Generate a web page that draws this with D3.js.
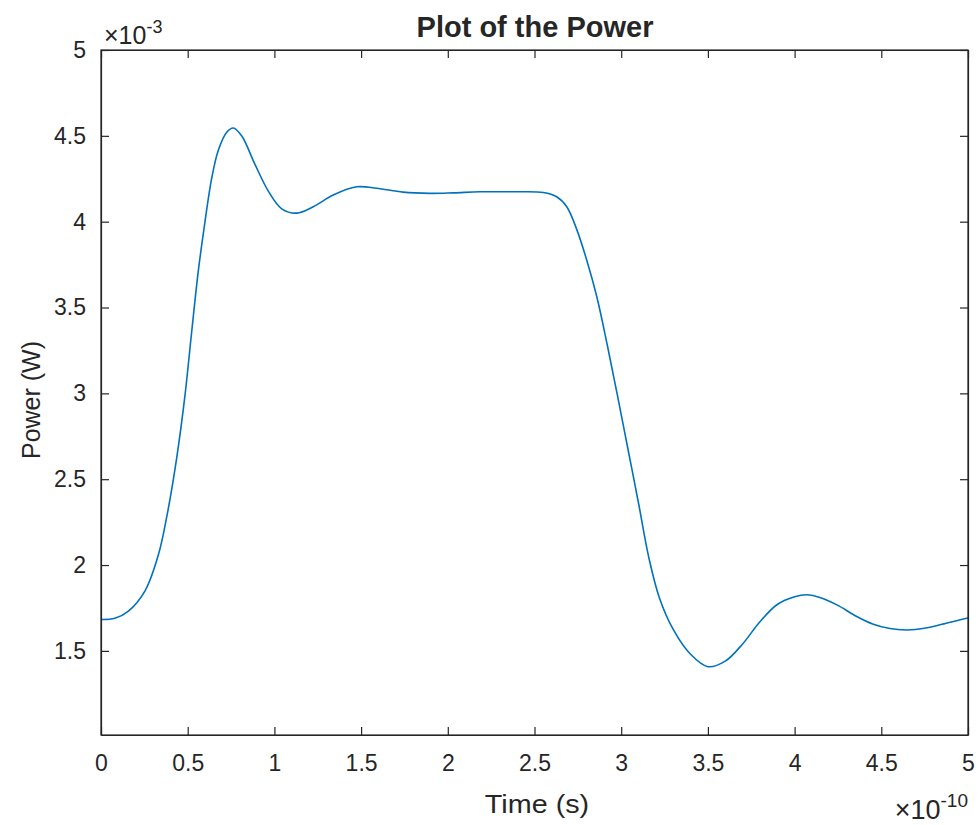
<!DOCTYPE html>
<html>
<head>
<meta charset="utf-8">
<script src="https://cdn.jsdelivr.net/npm/d3@7"></script>
<style>
  body { margin: 0; background: #fff; }
  svg { display: block; }
  text { font-family: "Liberation Sans", Arial, Helvetica, sans-serif; fill: #262626; }
</style>
</head>
<body>
<svg id="chart" width="979" height="825"></svg>
<script>
// Time in units of 1e-10 s
const timeVals = [0.00, 0.08, 0.158, 0.254, 0.331, 0.379, 0.436, 0.484, 0.523, 0.561, 0.59, 0.638, 0.677, 0.725, 0.763, 0.811, 0.888, 0.965, 1.042, 1.13, 1.224, 1.339, 1.474, 1.589, 1.742, 1.897, 2.032, 2.185, 2.378, 2.551, 2.628, 2.686, 2.745, 2.80, 2.86, 2.92, 2.98, 3.04, 3.10, 3.16, 3.22, 3.30, 3.40, 3.50, 3.60, 3.70, 3.80, 3.90, 4.00, 4.07, 4.15, 4.25, 4.35, 4.45, 4.55, 4.65, 4.75, 4.85, 4.95, 5.00];
// Power in units of 1e-3 W
const powerVals = [1.683, 1.69, 1.732, 1.85, 2.06, 2.28, 2.62, 2.985, 3.359, 3.712, 3.93, 4.251, 4.417, 4.521, 4.546, 4.5, 4.334, 4.178, 4.075, 4.05, 4.087, 4.155, 4.203, 4.195, 4.172, 4.165, 4.168, 4.174, 4.174, 4.17, 4.145, 4.087, 3.951, 3.78, 3.56, 3.28, 2.98, 2.67, 2.36, 2.04, 1.81, 1.625, 1.48, 1.408, 1.44, 1.54, 1.67, 1.77, 1.815, 1.827, 1.81, 1.765, 1.705, 1.657, 1.63, 1.622, 1.632, 1.655, 1.68, 1.692];
const xTicks = [0, 0.5, 1, 1.5, 2, 2.5, 3, 3.5, 4, 4.5, 5];
const xTickLabels = ["0", "0.5", "1", "1.5", "2", "2.5", "3", "3.5", "4", "4.5", "5"];
const yTicks = [1.5, 2, 2.5, 3, 3.5, 4, 4.5, 5];
const yTickLabels = ["1.5", "2", "2.5", "3", "3.5", "4", "4.5", "5"];
const titleText = "Plot of the Power";
const xLabelText = "Time (s)";
const yLabelText = "Power (W)";

const L = 101, R = 968, T = 50, B = 735;
const svg = d3.select("#chart");
const x = d3.scaleLinear().domain([0, 5]).range([L, R]);
const y = d3.scaleLinear().domain([1.01, 5]).range([B, T]);
const axisColor = "#262626";
const tickLen = 8;
const fontFam = "Liberation Sans, Arial, sans-serif";

// data line
const data = timeVals.map((t, i) => ({ t, p: powerVals[i] }));
svg.append("path")
  .datum(data)
  .attr("fill", "none")
  .attr("stroke", "#0072BD")
  .attr("stroke-width", 1.6)
  .attr("d", d3.line().x(d => x(d.t)).y(d => y(d.p)).curve(d3.curveCatmullRom.alpha(0.5)));

// axes (ticks inward, box)
const fmtX = (d, i) => xTickLabels[i];
const fmtY = (d, i) => yTickLabels[i];
function styleAxis(g) {
  g.selectAll("path").attr("stroke", axisColor).attr("stroke-width", 1.2);
  g.selectAll("line").attr("stroke", axisColor).attr("stroke-width", 1.2);
}
const gx = svg.append("g").attr("transform", `translate(0,${B})`)
  .call(d3.axisBottom(x).tickValues(xTicks).tickFormat(fmtX).tickSizeInner(-tickLen).tickSizeOuter(0).tickPadding(20));
gx.selectAll("text").attr("font-size", 23).attr("fill", axisColor).attr("font-family", fontFam);
styleAxis(gx);
const gxt = svg.append("g").attr("transform", `translate(0,${T})`)
  .call(d3.axisTop(x).tickValues(xTicks).tickFormat("").tickSizeInner(-tickLen).tickSizeOuter(0));
styleAxis(gxt);
const gy = svg.append("g").attr("transform", `translate(${L},0)`)
  .call(d3.axisLeft(y).tickValues(yTicks).tickFormat(fmtY).tickSizeInner(-tickLen).tickSizeOuter(0).tickPadding(15));
gy.selectAll("text").attr("font-size", 23).attr("fill", axisColor).attr("font-family", fontFam);
styleAxis(gy);
const gyr = svg.append("g").attr("transform", `translate(${R},0)`)
  .call(d3.axisRight(y).tickValues(yTicks).tickFormat("").tickSizeInner(-tickLen).tickSizeOuter(0));
styleAxis(gyr);
// box edges
svg.append("rect").attr("x", L).attr("y", T).attr("width", R - L).attr("height", B - T)
  .attr("fill", "none").attr("stroke", axisColor).attr("stroke-width", 1.2);

// title
svg.append("text").attr("x", 535).attr("y", 37).attr("text-anchor", "middle")
  .attr("font-size", 29).attr("font-weight", "bold").attr("fill", "#000").text(titleText);
// axis labels
svg.append("text").attr("transform", `translate(537,813) scale(1.15,1)`).attr("text-anchor", "middle")
  .attr("font-size", 25).text(xLabelText);
svg.append("text").attr("transform", `translate(40,400) rotate(-90)`).attr("text-anchor", "middle")
  .attr("font-size", 25).text(yLabelText);

// exponent labels
const e1 = svg.append("text").attr("x", 104).attr("y", 44).attr("font-size", 25);
e1.append("tspan").text("×10");
e1.append("tspan").attr("dy", -11).attr("font-size", 18).text("-3");
const e2 = svg.append("text").attr("x", 968).attr("y", 819).attr("font-size", 27).attr("text-anchor", "end");
e2.append("tspan").text("×10");
e2.append("tspan").attr("dy", -12).attr("font-size", 19).text("-10");
</script>
</body>
</html>
